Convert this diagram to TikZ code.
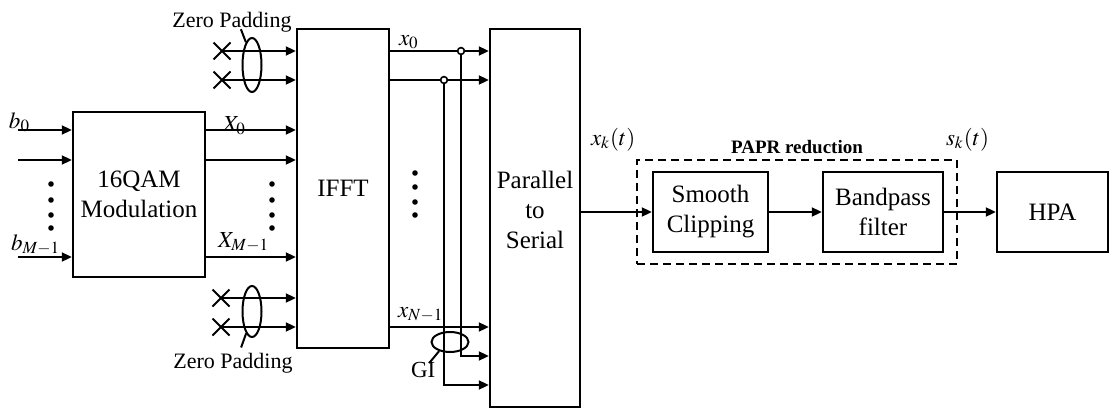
\documentclass[tikz,border=0pt]{standalone}
\usepackage{mathptmx}
\usepackage{fontspec}
\setmainfont{Liberation Serif}
\usetikzlibrary{arrows.meta,shapes.geometric,shapes.misc}

\begin{document}
\begin{tikzpicture}[x=0.5pt,y=-0.5pt,line width=1pt,
    freccia/.style={-{Triangle[length=5pt,width=4.5pt]}},
    blocco/.style={draw,line width=1.2pt,align=center,inner sep=0pt,font=\fontsize{12.5}{15}\selectfont},
    croce/.style={cross out,draw,line width=1pt,minimum size=7.5pt,inner sep=0pt},
    anello/.style={ellipse,draw,line width=1pt,inner sep=0pt},
    etichetta/.style={inner sep=0pt,font=\fontsize{11.5}{13}\selectfont},
    punto/.style={circle,fill=black,inner sep=0pt,minimum size=2.8pt},
    nodo/.style={circle,draw,fill=white,inner sep=0pt,minimum size=3.4pt,line width=0.8pt}]
\useasboundingbox (0,0) rectangle (1113,412);

% Blocchi principali
\node[blocco,minimum width=66pt,minimum height=82.5pt] (mod) at (139,194.5) {16QAM\\Modulation};
\node[blocco,minimum width=46pt,minimum height=159.5pt] (ifft) at (343,188.5) {IFFT};
\node[blocco,minimum width=45pt,minimum height=189pt] (ps) at (535,218) {};
\node[align=center,font=\fontsize{12.5}{15}\selectfont] (pstxt) at (535,210) {Parallel\\to\\Serial};
\node[blocco,minimum width=57.5pt,minimum height=40pt] (sc) at (710.5,212) {Smooth\\Clipping};
\node[blocco,minimum width=60pt,minimum height=40pt] (bp) at (883,212) {Bandpass\\filter};
\node[blocco,minimum width=55.5pt,minimum height=40pt] (hpa) at (1052.5,212) {HPA};
\node[draw,dash pattern=on 4pt off 2.5pt,line width=1.1pt,minimum width=160pt,minimum height=52pt] (papr) at (797,212) {};
\node[etichetta,anchor=base,font=\bfseries\fontsize{9.5}{11}\selectfont] (paprtxt) at (797,153) {PAPR reduction};

% Ingressi
\coordinate (b0) at (18,130);
\coordinate (b1) at (18,160);
\coordinate (bm) at (18,257);
\foreach \c in {b0,b1,bm} {
    \draw[freccia] (\c) -- (\c -| mod.west);
    \draw[freccia] (mod.east |- \c) -- (ifft.west |- \c);
}
\node[etichetta,anchor=base west] (lb0) at (8,128) {$b_0$};
\node[etichetta,anchor=base west] (lbm) at (10,250) {$b_{M-1}$};
\node[etichetta,anchor=base west] (lX0) at (222,131) {$X_0$};
\node[etichetta,anchor=base west] (lXm) at (217,247) {$X_{M-1}$};

% Zero padding
\node[croce] (z1) at (222,51) {};
\node[croce] (z2) at (222,80) {};
\node[croce] (z3) at (221,298) {};
\node[croce] (z4) at (221,327) {};
\foreach \c in {z1,z2,z3,z4}
    \draw[freccia] (\c.center) -- (\c -| ifft.west);
\node[anello,minimum width=9.5pt,minimum height=27pt] (zpa) at (252,65) {};
\node[anello,minimum width=9.5pt,minimum height=25.5pt] (zpb) at (252,311.5) {};
\node[etichetta,anchor=base,font=\fontsize{11}{13}\selectfont] (lzpa) at (232,27) {Zero Padding};
\node[etichetta,anchor=base,font=\fontsize{11}{13}\selectfont] (lzpb) at (233,368) {Zero Padding};
\draw (zpa.105) -- ++(-5,-13);
\draw (zpb.255) -- ++(-5,14);

% Puntini
\foreach \y in {184,200,215,228} {
    \node[punto] at (51,\y) {};
    \node[punto] at (272,\y) {};
}
\foreach \y in {173,187,202,215}
    \node[punto] at (415,\y) {};

% Uscite IFFT e intervallo di guardia
\coordinate (t0) at (461,51);
\coordinate (t1) at (444,80);
\coordinate (tn) at (400,327);
\coordinate (g0) at (461,356);
\coordinate (g1) at (444,385);
\draw[freccia] (ifft.east |- t0) -- (t0 -| ps.west);
\draw[freccia] (ifft.east |- t1) -- (t1 -| ps.west);
\draw[freccia] (ifft.east |- tn) -- (tn -| ps.west);
\draw[freccia] (t0) -- (g0) -- (g0 -| ps.west);
\draw[freccia] (t1) -- (g1) -- (g1 -| ps.west);
\node[nodo] at (t0) {};
\node[nodo] at (t1) {};
\node[anello,minimum width=18.5pt,minimum height=10pt] (gi) at (450,342) {};
\draw (gi.220) -- ++(-10,12);
\node[etichetta,anchor=base west] (lgi) at (410,377) {GI};
\node[etichetta,anchor=base west] (lx0) at (398,45) {$x_0$};
\node[etichetta,anchor=base west] (lxn) at (397,317) {$x_{N-1}$};

% Catena di trasmissione
\draw[freccia] (ps.east |- sc.west) -- (sc.west);
\draw[freccia] (sc.east) -- (bp.west);
\draw[freccia] (bp.east) -- (hpa.west);
\node[etichetta,anchor=base west] (lxk) at (590,145) {$x_k(t)$};
\node[etichetta,anchor=base west] (lsk) at (945,145) {$s_k(t)$};
\end{tikzpicture}
\end{document}
